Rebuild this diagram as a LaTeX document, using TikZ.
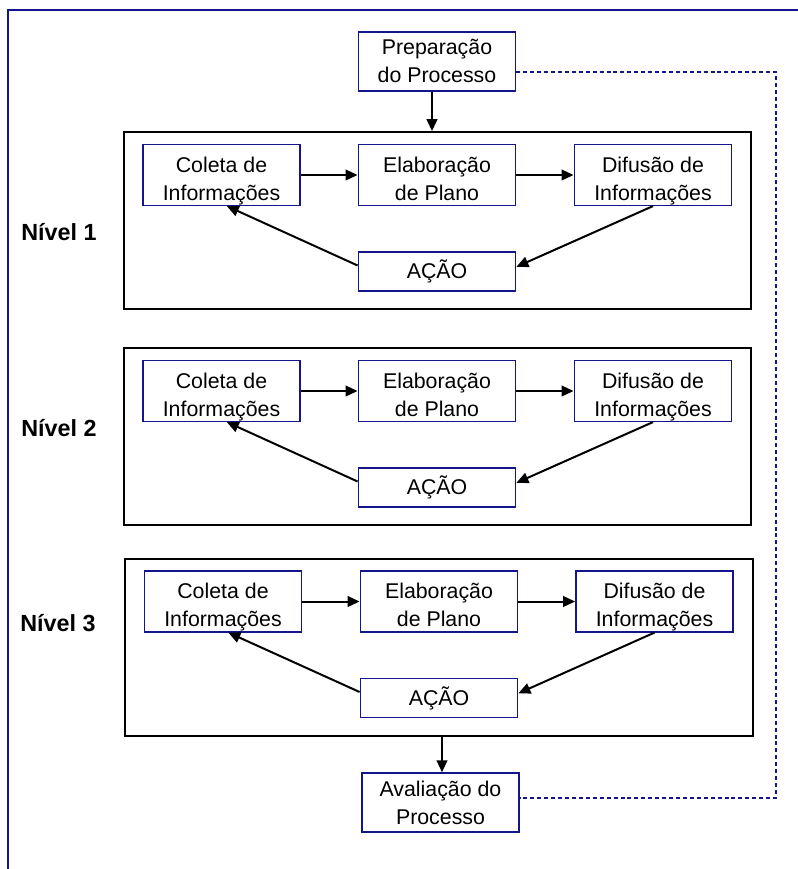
\documentclass[tikz,border=0pt]{standalone}
\usepackage{fontspec}
\setmainfont{Liberation Sans}
\usetikzlibrary{arrows.meta}
\definecolor{navy}{RGB}{20,20,140}
\newcommand{\twoline}[3]{\rule{0pt}{#1}#2\\#3\rule[-4pt]{0pt}{4pt}}
\begin{document}
\begin{tikzpicture}[x=0.75pt,y=-0.75pt,
  bbox/.style={draw=navy,line width=1.1pt,align=center,inner sep=0pt,
    minimum width=118pt,minimum height=44.25pt,font=\fontsize{16}{21}\selectfont},
  abox/.style={bbox,minimum height=29.25pt},
  levelbox/.style={draw=black,line width=1.3pt,inner sep=0pt,minimum height=132.75pt},
  lvl/.style={font=\bfseries\fontsize{17.5}{21}\selectfont,inner sep=0pt},
  arr/.style={line width=1.5pt,-{Triangle[length=9pt,width=8pt]}},
  dashline/.style={draw=navy,line width=1pt,dash pattern=on 3pt off 2.2pt}]
\useasboundingbox (0,0) rectangle (798,869);
\draw[navy,line width=1.1pt] (8,869) -- (8,10) -- (798,10);

\node[bbox] (prep) at (437,61.5) {\twoline{15pt}{Preparação}{do Processo}};

% Level boxes
\node[levelbox,minimum width=470.25pt] (l1) at (437.5,220.5) {};
\node[levelbox,minimum width=470.25pt] (l2) at (437.5,436.5) {};
\node[levelbox,minimum width=471pt] (l3) at (439,647.5) {};

\node[lvl] (n1) at (59,232) {Nível 1};
\node[lvl] (n2) at (59,428) {Nível 2};
\node[lvl] (n3) at (58,623) {Nível 3};

% Level 1
\node[bbox] (c1) at (221.5,175) {\twoline{20.5pt}{Coleta de}{Informações}};
\node[bbox] (e1) at (437,175) {\twoline{20.5pt}{Elaboração}{de Plano}};
\node[bbox] (d1) at (653,175) {\twoline{20.5pt}{Difusão de}{Informações}};
\node[abox] (a1) at (437,271.5) {AÇÃO};
% Level 2
\node[bbox] (c2) at (221.5,391) {\twoline{20.5pt}{Coleta de}{Informações}};
\node[bbox] (e2) at (437,391) {\twoline{20.5pt}{Elaboração}{de Plano}};
\node[bbox] (d2) at (653,391) {\twoline{20.5pt}{Difusão de}{Informações}};
\node[abox] (a2) at (437,487.5) {AÇÃO};
% Level 3
\node[bbox] (c3) at (223,601.5) {\twoline{20.5pt}{Coleta de}{Informações}};
\node[bbox] (e3) at (439,601.5) {\twoline{20.5pt}{Elaboração}{de Plano}};
\node[bbox] (d3) at (654.5,601.5) {\twoline{20.5pt}{Difusão de}{Informações}};
\node[abox] (a3) at (439,698) {AÇÃO};

\node[bbox] (aval) at (440.5,802.5) {\twoline{16.3pt}{Avaliação do}{Processo}};

% arrows
\coordinate (px) at (432,0);
\draw[arr] (prep.south -| px) -- (l1.north -| px);
\coordinate (ax) at (442,0);
\draw[arr] (l3.south -| ax) -- (aval.north -| ax);

\foreach \i in {1,2,3}{
  \draw[arr] (c\i) -- (e\i);
  \draw[arr] (e\i) -- (d\i);
  \draw[arr] (d\i.south) -- ([yshift=3.5pt]a\i.east);
  \draw[arr] ([yshift=4.5pt]a\i.west) -- ([xshift=4pt]c\i.south);
}

% dashed loop
\coordinate (dr1) at (776,72);
\coordinate (dr2) at (776,798);
\draw[dashline] (prep.east |- dr1) -- (dr1) -- (dr2) -- (aval.east |- dr2);
\end{tikzpicture}
\end{document}
